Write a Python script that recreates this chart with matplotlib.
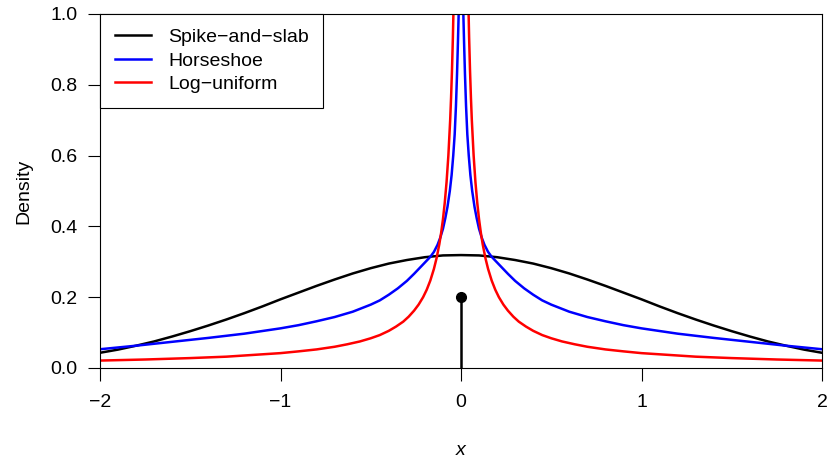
#importing library
import numpy as np
import matplotlib
matplotlib.use("Agg")
import matplotlib.pyplot as plt

plt.rcParams['font.family'] = ['Liberation Sans', 'DejaVu Sans']

#values

# spike-and-slab: slab part
slab_x = [-2.0, -1.9, -1.8, -1.7, -1.6, -1.5, -1.4, -1.3, -1.2, -1.1, -1.0,
          -0.9, -0.8, -0.7, -0.6, -0.5, -0.4, -0.3, -0.2, -0.1, 0.0,
          0.1, 0.2, 0.3, 0.4, 0.5, 0.6, 0.7, 0.8, 0.9, 1.0,
          1.1, 1.2, 1.3, 1.4, 1.5, 1.6, 1.7, 1.8, 1.9, 2.0]
slab_y = [0.043, 0.052, 0.063, 0.075, 0.089, 0.104, 0.120, 0.137, 0.155, 0.174, 0.194,
          0.213, 0.232, 0.250, 0.267, 0.282, 0.295, 0.305, 0.313, 0.318, 0.319,
          0.318, 0.313, 0.305, 0.295, 0.282, 0.267, 0.250, 0.232, 0.213, 0.194,
          0.174, 0.155, 0.137, 0.120, 0.104, 0.089, 0.075, 0.063, 0.052, 0.043]

# spike part
spike_x = 0.0
spike_y = 0.2

# horseshoe
hs_x = [-2.0, -1.8, -1.6, -1.4, -1.2, -1.0, -0.9, -0.8, -0.7, -0.6, -0.5,
        -0.45, -0.4, -0.35, -0.3, -0.26, -0.23, -0.2, -0.17, -0.15, -0.13,
        -0.115, -0.1, -0.087, -0.075, -0.062, -0.052, -0.043, -0.035, -0.028,
        -0.022, -0.017, -0.013, -0.01, -0.008, -0.005, 0.0,
        0.005, 0.008, 0.01, 0.013, 0.017, 0.022, 0.028, 0.035, 0.043, 0.052,
        0.062, 0.075, 0.087, 0.1, 0.115, 0.13, 0.15, 0.17, 0.2, 0.23,
        0.26, 0.3, 0.35, 0.4, 0.45, 0.5, 0.6, 0.7, 0.8, 0.9,
        1.0, 1.2, 1.4, 1.6, 1.8, 2.0]
hs_y = [0.053, 0.063, 0.074, 0.085, 0.097, 0.112, 0.121, 0.132, 0.144, 0.159, 0.179,
        0.191, 0.207, 0.225, 0.246, 0.266, 0.282, 0.298, 0.314, 0.328, 0.348,
        0.368, 0.393, 0.423, 0.455, 0.500, 0.545, 0.600, 0.660, 0.740,
        0.830, 0.920, 1.000, 1.080, 1.150, 1.280, np.nan,
        1.280, 1.150, 1.080, 1.000, 0.920, 0.830, 0.740, 0.660, 0.600, 0.545,
        0.500, 0.455, 0.423, 0.393, 0.368, 0.348, 0.328, 0.314, 0.298, 0.282,
        0.266, 0.246, 0.225, 0.207, 0.191, 0.179, 0.159, 0.144, 0.132, 0.121,
        0.112, 0.097, 0.085, 0.074, 0.063, 0.053]

# log-uniform
lu_x = [-2.0, -1.75, -1.5, -1.3, -1.15, -1.0, -0.9, -0.8, -0.7, -0.63, -0.56,
        -0.5, -0.45, -0.4, -0.36, -0.32, -0.29, -0.26, -0.235, -0.21, -0.19,
        -0.17, -0.15, -0.135, -0.12, -0.11, -0.1, -0.09, -0.08, -0.07, -0.06,
        -0.055, -0.05, -0.045, -0.04, -0.035, -0.03, 0.0,
        0.03, 0.035, 0.04, 0.045, 0.05, 0.055, 0.06, 0.07, 0.08, 0.09, 0.1,
        0.11, 0.12, 0.135, 0.15, 0.17, 0.19, 0.21, 0.235, 0.26, 0.29, 0.32,
        0.36, 0.4, 0.45, 0.5, 0.56, 0.63, 0.7, 0.8, 0.9, 1.0,
        1.15, 1.3, 1.5, 1.75, 2.0]
lu_y = [0.021, 0.024, 0.028, 0.032, 0.037, 0.042, 0.047, 0.0525, 0.060, 0.067, 0.075,
        0.084, 0.093, 0.105, 0.117, 0.131, 0.145, 0.162, 0.179, 0.200, 0.221,
        0.247, 0.280, 0.311, 0.350, 0.382, 0.420, 0.467, 0.525, 0.600, 0.700,
        0.764, 0.840, 0.933, 1.050, 1.200, 1.400, np.nan,
        1.400, 1.200, 1.050, 0.933, 0.840, 0.764, 0.700, 0.600, 0.525, 0.467, 0.420,
        0.382, 0.350, 0.311, 0.280, 0.247, 0.221, 0.200, 0.179, 0.162, 0.145, 0.131,
        0.117, 0.105, 0.093, 0.084, 0.075, 0.067, 0.060, 0.0525, 0.047, 0.042,
        0.037, 0.032, 0.028, 0.024, 0.021]

legend_labels = ["Spike\u2212and\u2212slab", "Horseshoe", "Log\u2212uniform"]
x_ticks = [-2, -1, 0, 1, 2]
x_tick_labels = ["\u22122", "\u22121", "0", "1", "2"]
y_ticks = [0.0, 0.2, 0.4, 0.6, 0.8, 1.0]
y_tick_labels = ["0.0", "0.2", "0.4", "0.6", "0.8", "1.0"]

#drawing the chart

fig = plt.figure(figsize=(8.27, 4.58), dpi=100)
ax = fig.add_axes([100 / 827, 1 - 368 / 458, 722 / 827, 354 / 458])

lw = 1.8
ax.plot(slab_x, slab_y, color="black", lw=lw, label=legend_labels[0])
ax.plot(hs_x, hs_y, color="blue", lw=lw, label=legend_labels[1])
ax.plot(lu_x, lu_y, color="red", lw=lw, label=legend_labels[2])
ax.plot([spike_x, spike_x], [0, spike_y], color="black", lw=lw, solid_capstyle="butt")
ax.plot([spike_x], [spike_y], "o", color="black", markersize=7)

ax.set_xlim(-2, 2)
ax.set_ylim(0, 1)
ax.set_xticks(x_ticks)
ax.set_xticklabels(x_tick_labels)
ax.set_yticks(y_ticks)
ax.set_yticklabels(y_tick_labels)
ax.tick_params(direction="out", length=9, width=0.8, labelsize=14, pad=7)
ax.tick_params(axis="x", pad=10)
for s in ax.spines.values():
    s.set_linewidth(0.8)

ax.set_xlabel("x", fontsize=14, style="italic", labelpad=22)
ax.set_ylabel("Density", fontsize=14, labelpad=13)

leg = ax.legend(loc="upper left", bbox_to_anchor=(0, 1), borderaxespad=0,
                fontsize=14, frameon=True, fancybox=False, framealpha=1,
                edgecolor="black", handlelength=1.85, handletextpad=0.9,
                labelspacing=0.3, borderpad=0.75)
leg.get_frame().set_linewidth(0.8)

fig.savefig("out.png", dpi=100)
